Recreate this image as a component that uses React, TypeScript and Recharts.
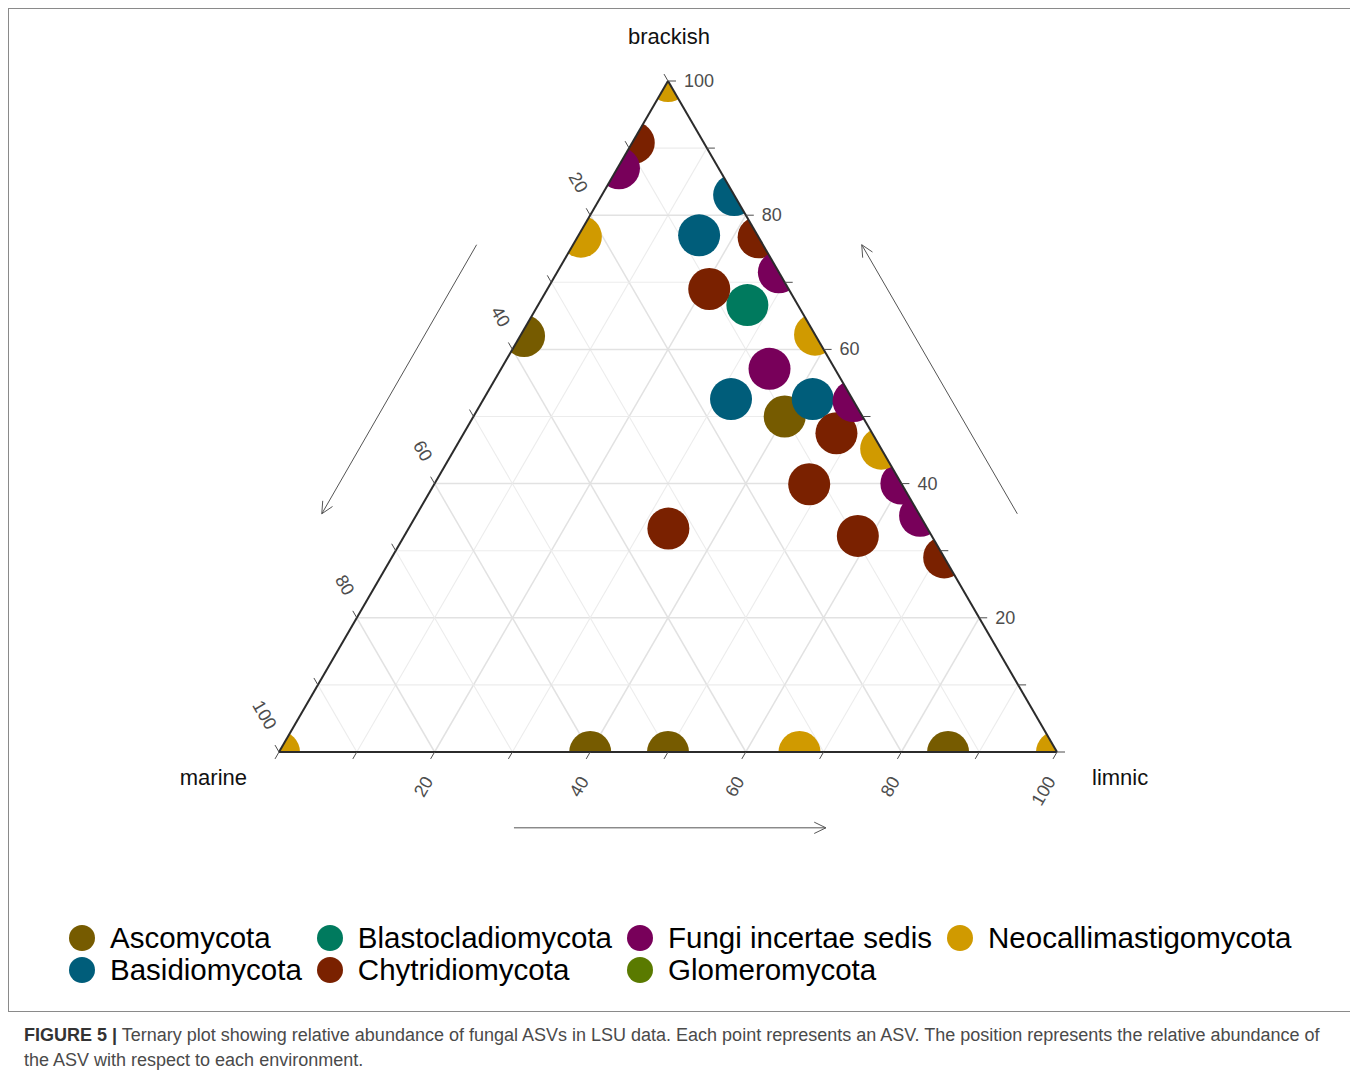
import React from 'react';
import { ScatterChart, Scatter, XAxis, YAxis, ReferenceLine, ReferenceDot, ReferenceArea } from 'recharts';

// Each point: [marine, brackish, limnic] (percent)
const phyla = [
  'Ascomycota',
  'Basidiomycota',
  'Blastocladiomycota',
  'Chytridiomycota',
  'Fungi incertae sedis',
  'Glomeromycota',
  'Neocallimastigomycota',
];
const phylumColors = ['#765b00', '#005d7a', '#007a5e', '#7a2100', '#78005a', '#5a7a00', '#d09a00'];

const ascomycota = [[37.5, 62, 0.5], [10, 50, 40], [60, 0, 40], [50, 0, 50], [14, 0, 86]];
const basidiomycota = [[0, 83, 17], [7.5, 77, 15.5], [15.6, 52.6, 31.8], [5.1, 52.6, 42.3]];
const blastocladiomycota = [[6.5, 66.6, 26.9]];
const chytridiomycota = [
  [9, 90.8, 0.2], [0, 76.7, 23.3], [10.2, 69, 20.8], [4.6, 47.5, 47.9],
  [11.9, 39.9, 48.2], [9.5, 32.2, 58.3], [0, 29, 71], [33.3, 33.3, 33.4],
];
const fungiIncertaeSedis = [[12.8, 87, 0.2], [0, 71.5, 28.5], [8.4, 57.1, 34.5], [0, 52.3, 47.7], [0, 40, 60], [0, 35.2, 64.8]];
const glomeromycota: number[][] = [];
const neocallimastigomycota = [[0, 100, 0], [22.8, 76.8, 0.4], [0, 62.2, 37.8], [0, 45.2, 54.8], [33.1, 0, 66.9], [100, 0, 0], [0, 0, 100]];

const seriesValues = [ascomycota, basidiomycota, blastocladiomycota, chytridiomycota, fungiIncertaeSedis, glomeromycota, neocallimastigomycota];

const gridLevels = [10, 20, 30, 40, 50, 60, 70, 80, 90];
const tickLevels = [0, 10, 20, 30, 40, 50, 60, 70, 80, 90, 100];
const labelLevels = [20, 40, 60, 80, 100];
const axisTitles = ['brackish', 'marine', 'limnic'];
const captionBold = 'FIGURE 5 |';
const captionLine1 = ' Ternary plot showing relative abundance of fungal ASVs in LSU data. Each point represents an ASV. The position represents the relative abundance of';
const captionLine2 = 'the ASV with respect to each environment.';

// ternary -> cartesian data coordinates (x: 0..100, y: brackish 0..100, axis scales handle aspect)
const tern = (m: number, b: number, l: number) => {
  const s = m + b + l;
  const bb = (b / s) * 100;
  const ll = (l / s) * 100;
  return { x: ll + bb / 2, y: bb };
};

const FONT = '"Liberation Sans", Arial, Helvetica, sans-serif';
const W = 1348;
const H = 1004;
const M = { top: 73, left: 271, right: W - 271 - 778, bottom: H - 73 - 671 };

const Dot = (props: any) => {
  const { cx, cy, fill } = props;
  if (cx == null || cy == null) return <g />;
  return <circle cx={cx} cy={cy} r={21} fill={fill} clipPath="url(#ternClip)" />;
};

const ClipDef = (p: any) => {
  const { x, y, width, height } = p;
  return (
    <defs>
      <clipPath id="ternClip">
        <polygon points={`${x},${y + height} ${x + width},${y + height} ${x + width / 2},${y}`} />
      </clipPath>
    </defs>
  );
};

const makeTick = (dx: number, dy: number, label: string | null, lx: number, ly: number, anchor: string, rot: number) =>
  (p: any) => {
    const { cx, cy } = p;
    if (cx == null) return <g />;
    const tx = cx + lx;
    const ty = cy + ly;
    return (
      <g>
        <line x1={cx} y1={cy} x2={cx + dx * 8} y2={cy + dy * 8} stroke="#4d4d4d" strokeWidth={1} />
        {label ? (
          <text
            x={tx}
            y={ty}
            textAnchor={anchor as any}
            dominantBaseline="central"
            transform={rot ? `rotate(${rot} ${tx} ${ty})` : undefined}
            fontSize={18}
            fontFamily={FONT}
            fill="#4d4d4d"
          >
            {label}
          </text>
        ) : null}
      </g>
    );
  };

const makeTitle = (label: string, lx: number, ly: number, anchor: string) => (p: any) => {
  const { cx, cy } = p;
  if (cx == null) return <g />;
  return (
    <text x={cx + lx} y={cy + ly} textAnchor={anchor as any} dominantBaseline="central" fontSize={22} fontFamily={FONT} fill="#111">
      {label}
    </text>
  );
};

const Arrow = (p: any) => {
  const { x1, y1, x2, y2 } = p;
  if (x1 == null) return <g />;
  const ang = Math.atan2(y2 - y1, x2 - x1);
  const L = 13;
  const a1 = ang + Math.PI - 0.45;
  const a2 = ang + Math.PI + 0.45;
  return (
    <g stroke="#555" strokeWidth={1} fill="none">
      <line x1={x1} y1={y1} x2={x2} y2={y2} />
      <polyline points={`${x2 + L * Math.cos(a1)},${y2 + L * Math.sin(a1)} ${x2},${y2} ${x2 + L * Math.cos(a2)},${y2 + L * Math.sin(a2)}`} />
    </g>
  );
};

// arrows (data coordinates, outside the triangle)
const arrowSegments = [
  [{ x: 30.2, y: -11.3 }, { x: 70.3, y: -11.3 }],
  [{ x: 94.9, y: 35.5 }, { x: 74.9, y: 75.6 }],
  [{ x: 25.4, y: 75.6 }, { x: 5.5, y: 35.5 }],
];

export default function App() {
  const gridLines: any[] = [];
  gridLevels.forEach((c) => {
    const major = c % 20 === 0;
    const stroke = major ? '#e2e2e2' : '#ececec';
    const sw = major ? 1.5 : 1.1;
    gridLines.push({ key: `b${c}`, seg: [tern(100 - c, c, 0), tern(0, c, 100 - c)], stroke, sw });
    gridLines.push({ key: `l${c}`, seg: [tern(100 - c, 0, c), tern(0, 100 - c, c)], stroke, sw });
    gridLines.push({ key: `m${c}`, seg: [tern(c, 100 - c, 0), tern(c, 0, 100 - c)], stroke, sw });
  });

  const border = [
    [tern(100, 0, 0), tern(0, 0, 100)],
    [tern(0, 0, 100), tern(0, 100, 0)],
    [tern(0, 100, 0), tern(100, 0, 0)],
  ];

  const ticks: any[] = [];
  tickLevels.forEach((t) => {
    const lab = labelLevels.includes(t) ? String(t) : null;
    // brackish (right edge)
    ticks.push({ key: `tb${t}`, pt: tern(0, t, 100 - t), shape: makeTick(1, 0, lab, 16, 0, 'start', 0) });
    // limnic (bottom edge)
    ticks.push({ key: `tl${t}`, pt: tern(100 - t, 0, t), shape: makeTick(-0.5, 0.866, lab, -6, 26, 'end', -60) });
    // marine (left edge)
    ticks.push({ key: `tm${t}`, pt: tern(t, 100 - t, 0), shape: makeTick(-0.5, -0.866, lab, -7, -24, 'end', 60) });
  });

  const titles = [
    { key: 'tt0', pt: tern(0, 100, 0), shape: makeTitle(axisTitles[0], 1, -45, 'middle') },
    { key: 'tt1', pt: tern(100, 0, 0), shape: makeTitle(axisTitles[1], -32, 25, 'end') },
    { key: 'tt2', pt: tern(0, 0, 100), shape: makeTitle(axisTitles[2], 35, 25, 'start') },
  ];

  return (
    <div style={{ position: 'relative', width: W, height: 1062, overflow: 'hidden', fontFamily: FONT, background: '#fff' }}>
      <div style={{ position: 'absolute', left: 0, top: 0, width: W, height: H, border: '1px solid #8a8a8a', boxSizing: 'border-box' }} />
      <div style={{ position: 'absolute', left: 0, top: 0 }}>
        <ScatterChart width={W} height={H} margin={M}>
          <XAxis type="number" dataKey="x" domain={[0, 100]} hide />
          <YAxis type="number" dataKey="y" domain={[0, 100]} hide />
          <ReferenceArea x1={0} x2={100} y1={0} y2={100} ifOverflow="visible" shape={ClipDef} />
          {gridLines.map((g) => (
            <ReferenceLine key={g.key} segment={g.seg} stroke={g.stroke} strokeWidth={g.sw} ifOverflow="visible" />
          ))}
          {arrowSegments.map((s, i) => (
            <ReferenceLine key={`ar${i}`} segment={s} ifOverflow="visible" shape={Arrow} />
          ))}
          {seriesValues.map((vals, i) => (
            <Scatter
              key={phyla[i]}
              name={phyla[i]}
              data={vals.map((v) => tern(v[0], v[1], v[2]))}
              fill={phylumColors[i]}
              shape={Dot}
              isAnimationActive={false}
            />
          ))}
          {border.map((s, i) => (
            <ReferenceLine key={`bd${i}`} segment={s} stroke="#2b2b2b" strokeWidth={2} ifOverflow="visible" zIndex={700} />
          ))}
          {ticks.map((t) => (
            <ReferenceDot key={t.key} x={t.pt.x} y={t.pt.y} r={0} ifOverflow="visible" shape={t.shape} zIndex={700} />
          ))}
          {titles.map((t) => (
            <ReferenceDot key={t.key} x={t.pt.x} y={t.pt.y} r={0} ifOverflow="visible" shape={t.shape} zIndex={700} />
          ))}
        </ScatterChart>
      </div>
      <div
        style={{
          position: 'absolute',
          left: 61,
          top: 914,
          display: 'grid',
          gridTemplateRows: '32px 32px',
          gridAutoFlow: 'column',
          columnGap: 15,
          fontSize: 29.5,
          color: '#000',
        }}
      >
        {phyla.map((p, i) => (
          <div key={p} style={{ display: 'flex', alignItems: 'center', height: 32, whiteSpace: 'nowrap' }}>
            <span style={{ width: 26, height: 26, borderRadius: '50%', background: phylumColors[i], marginRight: 15, flex: 'none' }} />
            <span>{p}</span>
          </div>
        ))}
      </div>
      <div style={{ position: 'absolute', left: 16, top: 1015, width: 1330, fontSize: 18, lineHeight: '25px', color: '#4a4a4a', whiteSpace: 'nowrap' }}>
        <span style={{ fontWeight: 'bold', color: '#333' }}>{captionBold}</span>
        {captionLine1}
        <br />
        {captionLine2}
      </div>
    </div>
  );
}
